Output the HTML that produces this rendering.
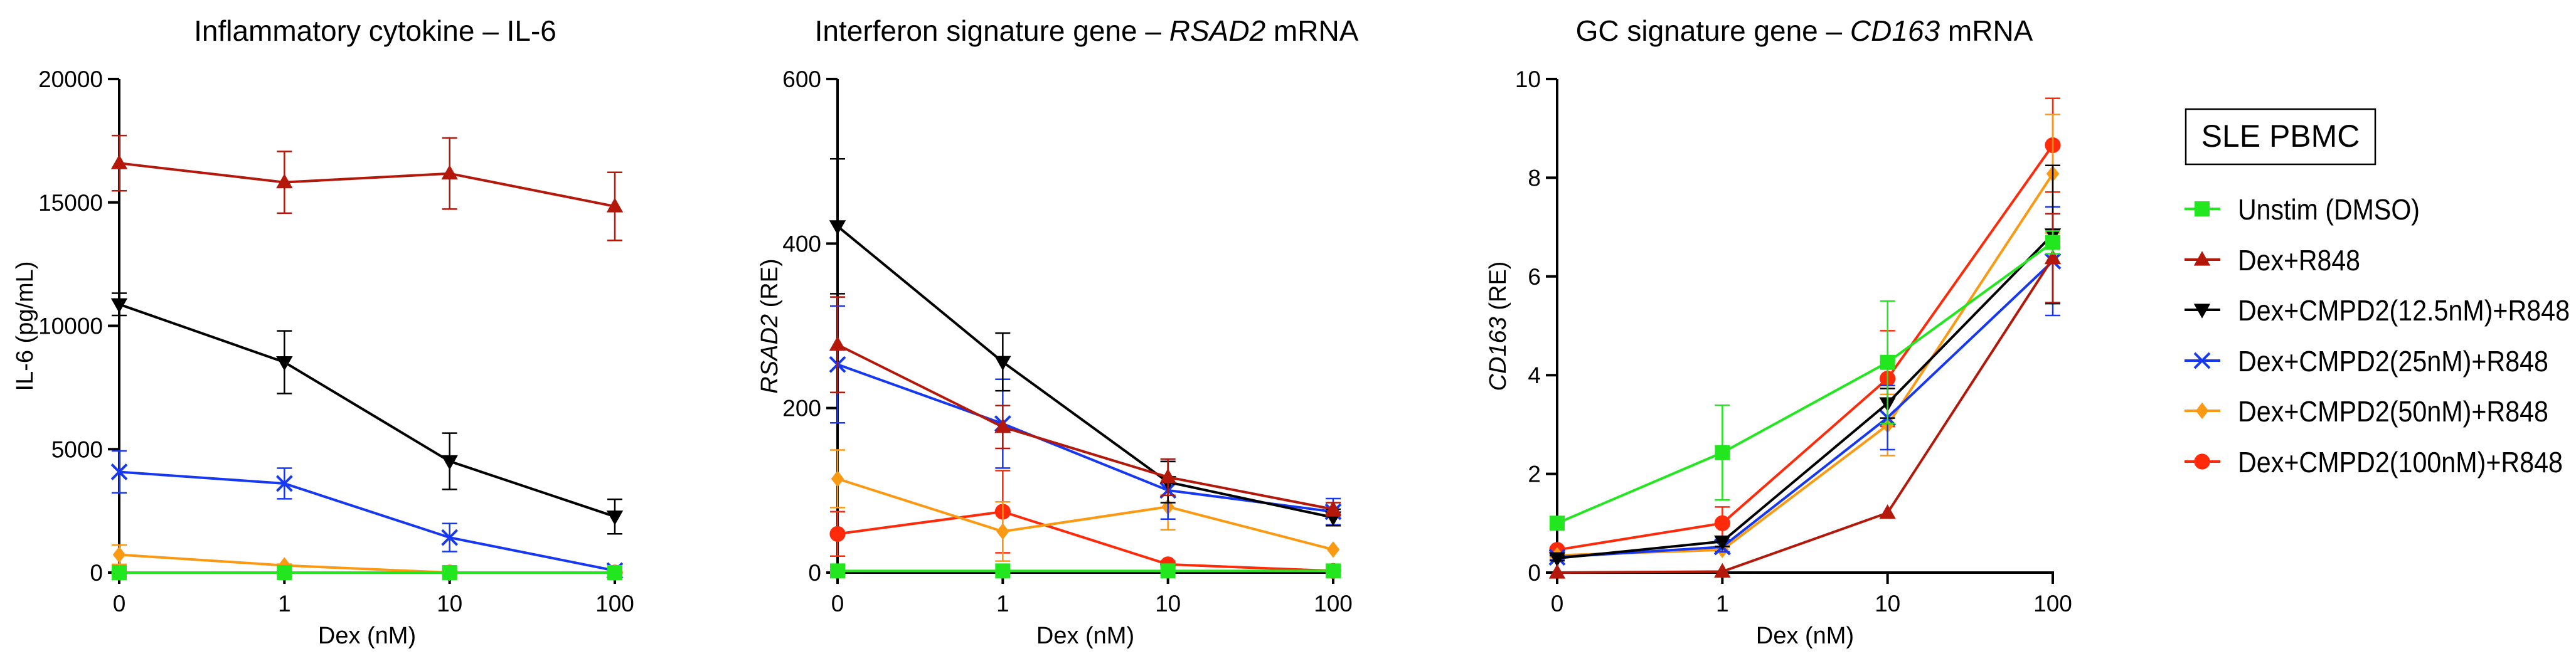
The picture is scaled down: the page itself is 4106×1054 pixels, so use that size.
<!DOCTYPE html>
<html><head><meta charset="utf-8">
<style>
html,body{margin:0;padding:0;background:#fff;}
svg{display:block;font-family:"Liberation Sans",Arial,sans-serif;}
</style></head>
<body>
<svg id="fig" width="4106" height="1054" viewBox="0 0 4106 1054" xmlns="http://www.w3.org/2000/svg">
  <rect width="4106" height="1054" fill="#fff"/>
  <text x="598" y="65" font-size="46" text-anchor="middle">Inflammatory cytokine –  IL-6</text>
  <text x="1732" y="65" font-size="46" text-anchor="middle">Interferon signature gene – <tspan font-style="italic">RSAD2</tspan> mRNA</text>
  <text x="2876" y="65" font-size="46" text-anchor="middle">GC signature gene  – <tspan font-style="italic">CD163</tspan> mRNA</text>

  <text transform="translate(52,520) rotate(-90)" font-size="38" text-anchor="middle">IL-6 (pg/mL)</text>
  <text transform="translate(1239,520) rotate(-90)" font-size="38" text-anchor="middle"><tspan font-style="italic">RSAD2</tspan> (RE)</text>
  <text transform="translate(2400,520) rotate(-90)" font-size="38" text-anchor="middle"><tspan font-style="italic">CD163</tspan> (RE)</text>

  <g id="plots"></g>

  <g>
    <rect x="3484" y="174" width="302" height="88" fill="#fff" stroke="#000" stroke-width="2.5"/>
    <text x="3635" y="234" font-size="50" text-anchor="middle">SLE PBMC</text>
    <g id="legend-entries"></g>
  </g>
</svg>
<script>
const categories = ["0", "1", "10", "100"];
const seriesNames = ["Unstim (DMSO)", "Dex+R848", "Dex+CMPD2(12.5nM)+R848", "Dex+CMPD2(25nM)+R848", "Dex+CMPD2(50nM)+R848", "Dex+CMPD2(100nM)+R848"];
const seriesColors = ["#22e61e", "#b3180a", "#000000", "#1638f2", "#fb9a12", "#ff2a0a"];
const seriesMarkers = ["square", "triUp", "triDown", "cross", "diamond", "circle"];

// Panel 1: IL-6 (pg/mL)
const il6Ticks = [0, 5000, 10000, 15000, 20000];
const il6Unstim = [0, 0, 0, 0];
const il6Dex = [16590, 15815, 16170, 14840];
const il6C125 = [10870, 8525, 4510, 2270];
const il6C25 = [4080, 3610, 1420, 80];
const il6C50 = [725, 290, 0, 0];
const il6C100 = [0, 0, 0, 0];
const il6ErrUnstim = [0, 0, 0, 0];
const il6ErrDex = [1120, 1250, 1440, 1380];
const il6ErrC125 = [450, 1270, 1140, 700];
const il6ErrC25 = [850, 620, 570, 0];
const il6ErrC50 = [390, 50, 0, 0];
const il6ErrC100 = [0, 0, 0, 0];

// Panel 2: RSAD2 (RE)
const rsadTicks = [0, 200, 400, 600];
const rsadUnstim = [2, 2, 2, 2];
const rsadDex = [277, 177, 116, 77];
const rsadC125 = [421, 256, 110, 67];
const rsadC25 = [253, 181, 100, 74];
const rsadC50 = [114, 50, 80, 28];
const rsadC100 = [47, 74, 10, 2];
const rsadErrUnstim = [0, 0, 0, 0];
const rsadErrDex = [58, 26, 22, 8];
const rsadErrC125 = [82, 35, 25, 10];
const rsadErrC25 = [71, 54, 35, 16];
const rsadErrC50 = [35, 36, 28, 0];
const rsadErrC100 = [27, 50, 4, 0];

// Panel 3: CD163 (RE)
const cdTicks = [0, 2, 4, 6, 8, 10];
const cdUnstim = [1.0, 2.43, 4.26, 6.69];
const cdDex = [0, 0.02, 1.21, 6.37];
const cdC125 = [0.29, 0.63, 3.43, 6.85];
const cdC25 = [0.31, 0.52, 3.14, 6.31];
const cdC50 = [0.35, 0.46, 2.99, 8.08];
const cdC100 = [0.46, 1.0, 3.93, 8.66];
const cdErrUnstim = [0.1, 0.96, 1.24, 0.23];
const cdErrDex = [0, 0, 0, 0.9];
const cdErrC125 = [0.05, 0.1, 0.3, 1.4];
const cdErrC25 = [0.05, 0.1, 0.65, 1.1];
const cdErrC50 = [0.05, 0.05, 0.62, 1.2];
const cdErrC100 = [0.05, 0.33, 0.97, 0.95];

const NS = "http://www.w3.org/2000/svg";
function mk(tag, attrs, parent) {
  const e = document.createElementNS(NS, tag);
  for (const k in attrs) e.setAttribute(k, attrs[k]);
  parent.appendChild(e);
  return e;
}
function drawMarker(g, type, cx, cy, color, s) {
  let m;
  if (type === "square") m = mk("rect", {x: cx - s, y: cy - s, width: 2 * s, height: 2 * s, fill: color}, g);
  else if (type === "triUp") m = mk("polygon", {points: `${cx},${cy - s * 1.15} ${cx - s * 1.1},${cy + s * 0.8} ${cx + s * 1.1},${cy + s * 0.8}`, fill: color}, g);
  else if (type === "triDown") m = mk("polygon", {points: `${cx},${cy + s * 1.15} ${cx - s * 1.1},${cy - s * 0.8} ${cx + s * 1.1},${cy - s * 0.8}`, fill: color}, g);
  else if (type === "diamond") m = mk("polygon", {points: `${cx},${cy - s * 1.1} ${cx + s * 0.85},${cy} ${cx},${cy + s * 1.1} ${cx - s * 0.85},${cy}`, fill: color}, g);
  else if (type === "circle") m = mk("circle", {cx: cx, cy: cy, r: s * 1.05, fill: color}, g);
  else {
    m = mk("path", {d: `M${cx - s},${cy - s}L${cx + s},${cy + s}M${cx - s},${cy + s}L${cx + s},${cy - s}`, stroke: color, "stroke-width": 4, fill: "none"}, g);
  }
  return m;
}

const panels = [
  {key: "il6", x0: 190, ticks: il6Ticks, max: 20000, vals: [il6Unstim, il6Dex, il6C125, il6C25, il6C50, il6C100], errs: [il6ErrUnstim, il6ErrDex, il6ErrC125, il6ErrC25, il6ErrC50, il6ErrC100]},
  {key: "rsad2", x0: 1335, ticks: rsadTicks, max: 600, vals: [rsadUnstim, rsadDex, rsadC125, rsadC25, rsadC50, rsadC100], errs: [rsadErrUnstim, rsadErrDex, rsadErrC125, rsadErrC25, rsadErrC50, rsadErrC100]},
  {key: "cd163", x0: 2482, ticks: cdTicks, max: 10, vals: [cdUnstim, cdDex, cdC125, cdC25, cdC50, cdC100], errs: [cdErrUnstim, cdErrDex, cdErrC125, cdErrC25, cdErrC50, cdErrC100]}
];
const Y0 = 913, YTOP = 126, XSPAN = 790;
const root = document.getElementById("plots");

panels.forEach((p, pi) => {
  const g = mk("g", {}, root);
  
  
  const xs = i => p.x0 + i * XSPAN / (categories.length - 1);
  const ys = v => Y0 - v / p.max * (Y0 - YTOP);

  const ya = mk("line", {x1: p.x0, y1: Y0 + 2, x2: p.x0, y2: YTOP, stroke: "#000", "stroke-width": 4}, g);
  
  
  const xa = mk("line", {x1: p.x0 - 2, y1: Y0, x2: xs(3) + 2, y2: Y0, stroke: "#000", "stroke-width": 4}, g);
  
  

  p.ticks.forEach(t => {
    const y = ys(t);
    mk("line", {x1: p.x0 - 18, y1: y, x2: p.x0, y2: y, stroke: "#000", "stroke-width": 4}, g);
    const tl = mk("text", {x: p.x0 - 26, y: y + 13, "font-size": 37, "text-anchor": "end"}, g);
    tl.textContent = t;
    
    
  });
  categories.forEach((c, i) => {
    const x = xs(i);
    mk("line", {x1: x, y1: Y0, x2: x, y2: Y0 + 18, stroke: "#000", "stroke-width": 4}, g);
    const tl = mk("text", {x: x, y: 975, "font-size": 37, "text-anchor": "middle"}, g);
    tl.textContent = c;
    
    
  });
  const xt = mk("text", {x: p.x0 + XSPAN / 2, y: 1026, "font-size": 38, "text-anchor": "middle"}, g);
  xt.textContent = "Dex (nM)";
  
  

  for (let s = seriesNames.length - 1; s >= 0; s--) {
    const sg = mk("g", {}, g);
    
    
    const col = seriesColors[s];
    const vals = p.vals[s], errs = p.errs[s];
    vals.forEach((v, i) => {
      const e = errs[i];
      if (e <= 0) return;
      const x = xs(i), yu = ys(v + e), yl = ys(Math.max(0, v - e));
      const eb = mk("path", {d: `M${x},${yu}L${x},${yl}M${x - 12},${yu}L${x + 12},${yu}M${x - 12},${yl}L${x + 12},${yl}`, stroke: col, "stroke-width": 2.5, fill: "none"}, sg);
      
      
    });
    const pts = vals.map((v, i) => xs(i) + "," + ys(v)).join(" ");
    const pl = mk("polyline", {points: pts, fill: "none", stroke: col, "stroke-width": 4}, sg);
    
    
    vals.forEach((v, i) => {
      const m = drawMarker(sg, seriesMarkers[s], xs(i), ys(v), col, 12);
      
      
    });
  }
});

const lg = document.getElementById("legend-entries");
const legendY = [333, 414, 494, 575, 655, 736];
const legendTextWidth = [290, 195, 529, 495, 495, 518];
seriesNames.forEach((n, s) => {
  const eg = mk("g", {}, lg);
  
  
  const y = legendY[s];
  mk("line", {x1: 3482, y1: y, x2: 3539, y2: y, stroke: seriesColors[s], "stroke-width": 4}, eg);
  drawMarker(eg, seriesMarkers[s], 3510, y, seriesColors[s], 12);
  const t = mk("text", {x: 3567, y: y + 17, "font-size": 46, textLength: legendTextWidth[s], lengthAdjust: "spacingAndGlyphs"}, eg);
  t.textContent = n;
  
  
});
</script>
</body></html>
